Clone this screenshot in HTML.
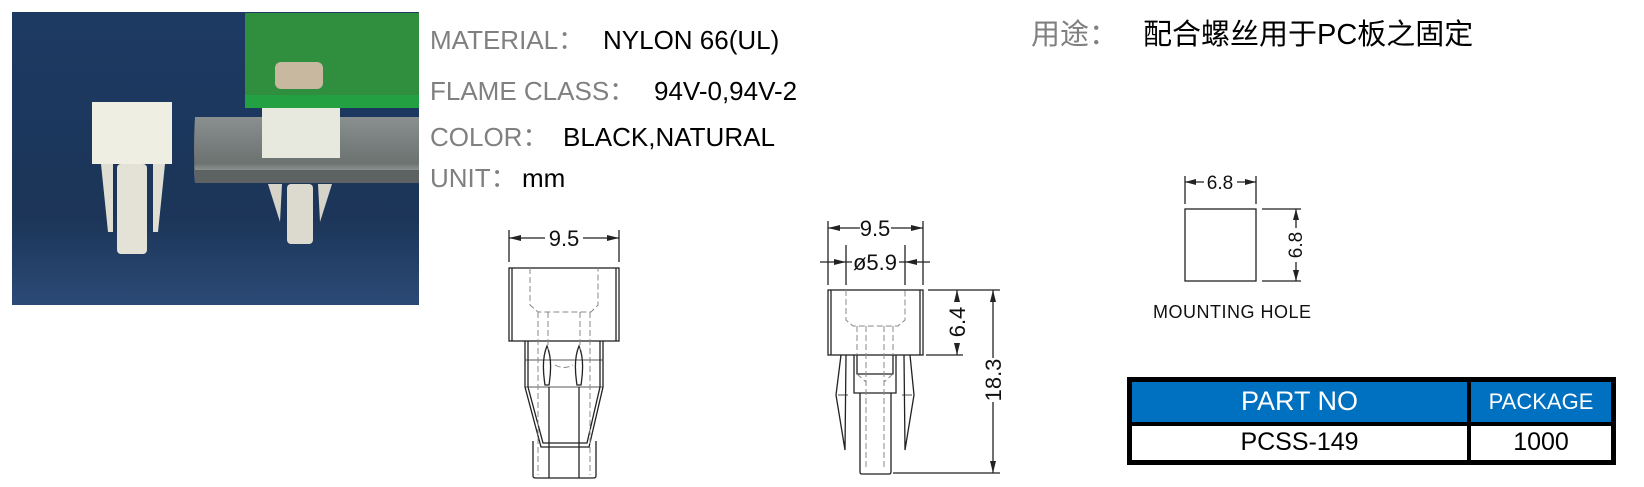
<!DOCTYPE html>
<html><head><meta charset="utf-8"><style>
body{margin:0;background:#fff;width:1644px;height:487px;overflow:hidden;position:relative;font-family:"Liberation Sans","Noto Sans CJK SC",sans-serif}
.t{position:absolute;font-size:26px;white-space:nowrap;line-height:1}
.g{color:#808080}
table{position:absolute;left:1127px;top:377px;border-collapse:collapse;border:5px solid #000}
td{border:4px solid #000;text-align:center;font-size:25px;padding:0}
</style></head><body>
<svg width="1644" height="487" style="position:absolute;left:0;top:0">
<defs><linearGradient id="bg" x1="0" y1="0" x2="0" y2="1"><stop offset="0" stop-color="#1d3a63"/><stop offset="0.7" stop-color="#1c3558"/><stop offset="1" stop-color="#2a4a76"/></linearGradient>
<linearGradient id="pl" x1="0" y1="0" x2="0" y2="1"><stop offset="0" stop-color="#8a9090"/><stop offset="0.7" stop-color="#6c7270"/><stop offset="1" stop-color="#c9cccc"/></linearGradient></defs>
<rect x="12" y="12" width="407" height="293" fill="url(#bg)"/>
<rect x="245" y="13" width="174" height="95" fill="#2f8f3e"/>
<rect x="245" y="95" width="174" height="13" fill="#23a142"/>
<rect x="275" y="62" width="48" height="27" rx="6" fill="#c8b8a0"/>
<path d="M195 117 H419 V183 H195 Q193 150 195 117Z" fill="url(#pl)"/>
<rect x="195" y="170" width="224" height="13" fill="#5d6262"/>
<rect x="262" y="108" width="78" height="50" fill="#e8e9de"/>
<rect x="92" y="102" width="80" height="62" fill="#efeee2"/>
<rect x="117" y="164" width="30" height="90" rx="4" fill="#e4e2d6"/>
<path d="M101 164 L113 164 L113 232 L108 232 Z" fill="#e0ded2"/>
<path d="M153 164 L165 164 L158 232 L153 232 Z" fill="#e0ded2"/>
<rect x="287" y="184" width="26" height="60" rx="4" fill="#dcdace"/>
<path d="M268 184 L282 184 L280 222 Z" fill="#d6d4c8"/>
<path d="M318 184 L332 184 L320 222 Z" fill="#d6d4c8"/>
<g stroke="#222" stroke-width="1.3" fill="none">
<line x1="509" y1="230" x2="509" y2="262"/><line x1="619" y1="230" x2="619" y2="262"/>
<line x1="509" y1="238" x2="545" y2="238"/><line x1="583" y1="238" x2="619" y2="238"/>
<rect x="509" y="268" width="110" height="73"/>
<line x1="512" y1="268" x2="512" y2="341"/><line x1="616" y1="268" x2="616" y2="341"/>
<path d="M525 341 V387 L541 447 H589 L603 387 V341"/>
<path d="M528 341 V387 L543 443 H587 L600 387 V341"/>
<line x1="525" y1="360" x2="603" y2="360" stroke-width="0.8"/>
<line x1="525" y1="387" x2="603" y2="387" stroke-width="0.8"/>
<path d="M545 385 Q541 360 547 346 Q553 360 549 385Z"/>
<path d="M577 385 Q573 360 579 346 Q585 360 581 385Z"/>
<path d="M533 441 V476 Q533 478 536 478 H593 Q596 478 596 476 V441"/>
<line x1="549" y1="387" x2="549" y2="478"/><line x1="579" y1="387" x2="579" y2="478"/>
<g stroke="#888" stroke-dasharray="6,3" stroke-width="1">
<path d="M530 268 V305 L538 312 H591 L598 305 V268"/>
<line x1="538" y1="312" x2="538" y2="475"/><line x1="590" y1="312" x2="590" y2="475"/>
<line x1="548" y1="312" x2="548" y2="350"/><line x1="580" y1="312" x2="580" y2="350"/>
<path d="M555 365 Q564 370 573 365"/>
</g>
<line x1="828" y1="221" x2="828" y2="285"/><line x1="923" y1="221" x2="923" y2="285"/>
<line x1="846" y1="245" x2="846" y2="285"/><line x1="905" y1="245" x2="905" y2="285"/>
<line x1="828" y1="228" x2="860" y2="228"/><line x1="891" y1="228" x2="923" y2="228"/>
<line x1="820" y1="262" x2="852" y2="262"/><line x1="899" y1="262" x2="930" y2="262"/>
<rect x="828" y="290" width="95" height="65"/>
<line x1="831" y1="290" x2="831" y2="355"/><line x1="920" y1="290" x2="920" y2="355"/>
<path d="M841 355 L836 395 L845 450 L846 355"/>
<path d="M910 355 L914 395 L905 450 L904 355"/>
<path d="M854 355 V393 H896 V355"/><path d="M857 355 V374 H893 V355"/>
<path d="M860 393 V472 Q860 474 862 474 H889 Q891 474 891 472 V393"/>
<line x1="838" y1="395" x2="848" y2="395" stroke-width="0.8"/><line x1="902" y1="395" x2="912" y2="395" stroke-width="0.8"/>
<g stroke="#888" stroke-dasharray="6,3" stroke-width="1">
<path d="M846 290 V320 L853 326 H898 L905 320 V290"/>
<line x1="866" y1="326" x2="866" y2="470"/><line x1="884" y1="326" x2="884" y2="470"/>
<line x1="857" y1="326" x2="857" y2="355"/><line x1="893" y1="326" x2="893" y2="355"/>
<path d="M857 374 L866 382 M893 374 L884 382"/>
</g>
<line x1="928" y1="290" x2="1000" y2="290"/><line x1="926" y1="355" x2="963" y2="355"/><line x1="893" y1="473" x2="1000" y2="473"/>
<line x1="957" y1="290" x2="957" y2="302"/><line x1="957" y1="343" x2="957" y2="355"/>
<line x1="993" y1="290" x2="993" y2="358"/><line x1="993" y1="402" x2="993" y2="473"/>
<rect x="1185" y="209" width="71" height="72"/>
<line x1="1185" y1="176" x2="1185" y2="204"/><line x1="1256" y1="176" x2="1256" y2="204"/>
<line x1="1185" y1="182" x2="1204" y2="182"/><line x1="1237" y1="182" x2="1256" y2="182"/>
<line x1="1262" y1="209" x2="1301" y2="209"/><line x1="1262" y1="281" x2="1301" y2="281"/>
<line x1="1296" y1="209" x2="1296" y2="228"/><line x1="1296" y1="262" x2="1296" y2="281"/>
</g>
<g fill="#222">
<path d="M509 238 l12 -3 v6z M619 238 l-12 -3 v6z"/>
<path d="M828 228 l12 -3 v6z M923 228 l-12 -3 v6z"/>
<path d="M846 262 l-12 -3 v6z M905 262 l12 -3 v6z"/>
<path d="M957 290 l-3 12 h6z M957 355 l-3 -12 h6z"/>
<path d="M993 290 l-3 12 h6z M993 473 l-3 -12 h6z"/>
<path d="M1185 182 l11 -3 v6z M1256 182 l-11 -3 v6z"/>
<path d="M1296 209 l-3 11 h6z M1296 281 l-3 -11 h6z"/>
</g>
<g font-family="Liberation Sans,sans-serif" fill="#111">
<text x="564" y="246" font-size="22" text-anchor="middle">9.5</text>
<text x="875" y="236" font-size="22" text-anchor="middle">9.5</text>
<text x="875" y="270" font-size="22" text-anchor="middle">ø5.9</text>
<text transform="translate(965 322) rotate(-90)" font-size="22" text-anchor="middle">6.4</text>
<text transform="translate(1001 380) rotate(-90)" font-size="22" text-anchor="middle">18.3</text>
<text x="1220" y="189" font-size="19" text-anchor="middle">6.8</text>
<text transform="translate(1302 245) rotate(-90)" font-size="19" text-anchor="middle">6.8</text>
<text x="1153" y="318" font-size="18" letter-spacing="0.5">MOUNTING  HOLE</text>
</g>
</svg>
<div class="t g" style="left:430px;top:27px">MATERIAL：</div><div class="t" style="left:603px;top:27px">NYLON 66(UL)</div>
<div class="t g" style="left:430px;top:78px">FLAME CLASS：</div><div class="t" style="left:654px;top:78px">94V-0,94V-2</div>
<div class="t g" style="left:430px;top:124px">COLOR：</div><div class="t" style="left:563px;top:124px">BLACK,NATURAL</div>
<div class="t g" style="left:430px;top:165px">UNIT：</div><div class="t" style="left:522px;top:165px">mm</div>
<div class="t g" style="left:1031px;top:21px;font-size:29px">用途：</div>
<div class="t" style="left:1143px;top:21px;font-size:29px">配合螺丝用于PC板之固定</div>
<table>
<tr style="height:44px"><td style="width:335px;background:#0070c0;color:#fff;font-size:27px">PART NO</td><td style="width:140px;background:#0070c0;color:#fff;font-size:22px">PACKAGE</td></tr>
<tr style="height:39px"><td>PCSS-149</td><td>1000</td></tr>
</table>
</body></html>
